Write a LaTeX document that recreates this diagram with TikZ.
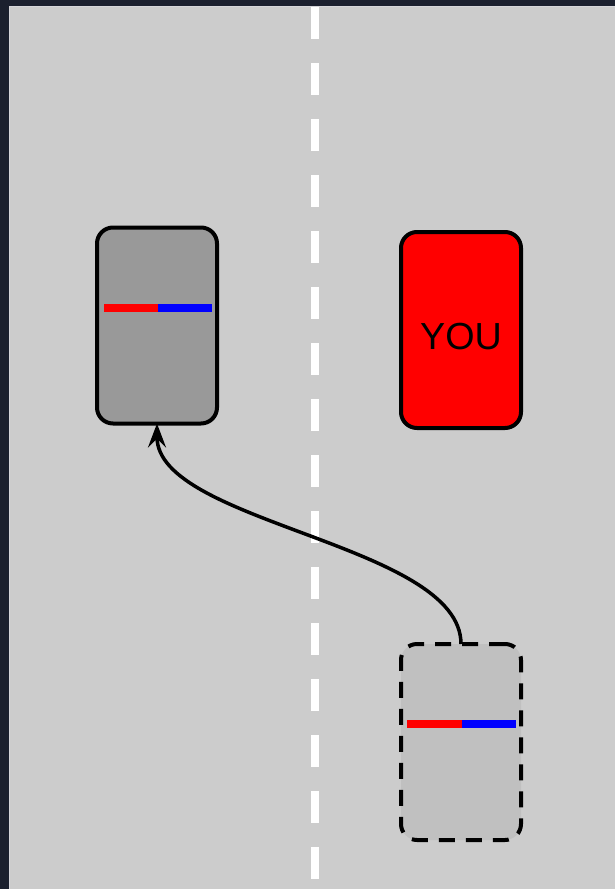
\documentclass[tikz,border=0pt]{standalone}
\usepackage{fontspec}
\setmainfont{Liberation Sans}
\usetikzlibrary{arrows.meta}
\definecolor{bgdark}{RGB}{27,32,46}
\definecolor{road}{RGB}{204,204,204}
\definecolor{roadedge}{RGB}{214,214,218}
\definecolor{carA}{RGB}{153,153,153}
\definecolor{ghostfill}{RGB}{192,192,192}
\begin{document}
\begin{tikzpicture}[x=1pt,y=-1pt,
  car/.style={draw=black, line width=4pt, rounded corners=16pt,
    minimum width=120pt, minimum height=196pt, inner sep=0pt, outer sep=0pt},
  lanedash/.style={fill=white},
  move/.style={draw=black, line width=3.5pt, -{Stealth[length=24pt,width=18pt,inset=9pt]}}]
\useasboundingbox (0,0) rectangle (615,889);
\fill[bgdark] (0,0) rectangle (615,889);
\fill[road] (9,6) rectangle (615,889);
\draw[roadedge, line width=0.8pt] (9.4,889) -- (9.4,6.4) -- (615,6.4);
% lane markings
\foreach \k in {0,...,15}
  \fill[lanedash] (310.5,{7+56*\k}) rectangle (318.5,{39+56*\k});
% cars
\node[car, fill=carA] (car1) at (157,325.5) {};
\node[car, fill=red] (you) at (461,330) {};
\node[font=\fontsize{37.7}{40}\selectfont, inner sep=0pt] (youlabel) at (461,337) {YOU};
\node[car, fill=ghostfill, dash pattern=on 16pt off 11pt] (ghost) at (461,742) {};
% light bars
\fill[red] (103.5,304) rectangle (157.7,312);
\fill[blue] (157.7,304) rectangle (211.7,312);
\fill[red] (407,720) rectangle (461.7,728);
\fill[blue] (461.7,720) rectangle (516,728);
% movement arrow
\draw[move] (ghost.north) .. controls +(0,-100) and +(0,100) .. (car1.south);
\end{tikzpicture}
\end{document}
